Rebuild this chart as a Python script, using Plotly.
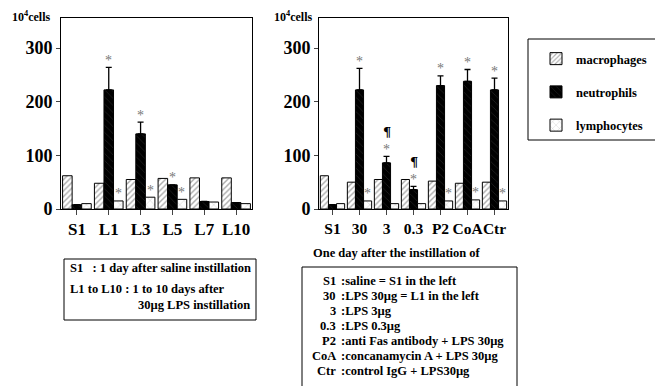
import plotly.graph_objects as go

# ---------------- data ----------------
left_cats = ["S1", "L1", "L3", "L5", "L7", "L10"]
left_mac = [62, 48, 55, 57, 58, 58]
left_neu = [8, 222, 140, 45, 14, 12]
left_lym = [10, 15, 22, 18, 13, 10]
left_neu_err = [0, 42, 22, 0, 0, 0]

right_cats = ["S1", "30", "3", "0.3", "P2", "CoA", "Ctr"]
right_mac = [62, 50, 55, 55, 52, 48, 50]
right_neu = [8, 222, 86, 36, 230, 238, 222]
right_lym = [10, 15, 10, 10, 15, 17, 15]
right_neu_err = [0, 40, 12, 6, 18, 22, 22]

# significance marks: (category, series, symbol)
left_marks = [("L1", "neu", "*"), ("L1", "lym", "*"), ("L3", "neu", "*"),
              ("L3", "lym", "*"), ("L5", "neu", "*"), ("L5", "lym", "*")]
right_marks = [("30", "neu", "*"), ("30", "lym", "*"), ("3", "neu", "*"),
               ("0.3", "neu", "*"), ("P2", "neu", "*"), ("P2", "lym", "*"),
               ("CoA", "neu", "*"), ("CoA", "lym", "*"), ("Ctr", "neu", "*"),
               ("Ctr", "lym", "*")]
right_para = ["3", "0.3"]

series_names = ["macrophages", "neutrophils", "lymphocytes"]
yticks = [0, 100, 200, 300]

left_box_lines = ["S1   : 1 day after saline instillation",
                  "L1 to L10 : 1 to 10 days after",
                  "30\u00b5g LPS instillation"]
right_title = "One day after the instillation of"
right_codes = ["S1", "30", "3", "0.3", "P2", "CoA", "Ctr"]
right_descs = [":saline = S1 in the left", ":LPS 30\u00b5g = L1 in the left",
               ":LPS 3\u00b5g", ":LPS 0.3\u00b5g",
               ":anti Fas antibody + LPS 30\u00b5g",
               ":concanamycin A + LPS 30\u00b5g", ":control IgG + LPS30\u00b5g"]

# ---------------- styling ----------------
OX, OY = 8, 8
W, H = 663 - OX, 386 - OY
SERIF = "Liberation Serif"
styles = {
    "macrophages": dict(color="white",
                        pattern=dict(shape="/", fgcolor="#555", bgcolor="white",
                                     size=4, solidity=0.35, fillmode="overlay")),
    "neutrophils": dict(color="black",
                        pattern=dict(shape="\\", fgcolor="#444", bgcolor="black",
                                     size=5, solidity=0.15, fillmode="overlay")),
    "lymphocytes": dict(color="white",
                        pattern=dict(shape="x", fgcolor="#777", bgcolor="white",
                                     size=6, solidity=0.12, fillmode="overlay")),
}

def px_x(p):
    return (p - OX) / W

def px_y(p):
    return 1 - (p - OY) / H

fig = go.Figure()

def add_group(cats, mac, neu, lym, err, xa, ya, show):
    vals = {"macrophages": mac, "neutrophils": neu, "lymphocytes": lym}
    for name in series_names:
        st = styles[name]
        kw = {}
        if name == "neutrophils":
            kw["error_y"] = dict(type="data", array=err, arrayminus=[0] * len(err),
                                 symmetric=False, color="black", thickness=1.3,
                                 width=3)
        fig.add_trace(go.Bar(
            x=cats, y=vals[name], name=name, xaxis=xa, yaxis=ya,
            marker=dict(color=st["color"], pattern=st["pattern"],
                        line=dict(color="black", width=1)),
            showlegend=show, legendgroup=name, **kw))

add_group(left_cats, left_mac, left_neu, left_lym, left_neu_err, "x", "y", True)
add_group(right_cats, right_mac, right_neu, right_lym, right_neu_err, "x2", "y2", False)

# axis geometry (pixels in the screenshot)
L_x0, L_x1 = 61, 252
R_x0, R_x1 = 319, 508
Y_top, Y_zero = 18, 209
YMAX = 356
BARGAP = 0.1

axis_common = dict(showline=True, linecolor="black", linewidth=1, mirror=True,
                   showgrid=False, zeroline=False, automargin=False)
xfont = dict(family=SERIF, size=17, color="black", weight="bold")
xfont2 = dict(family=SERIF, size=15.5, color="black", weight="bold")
yfont = dict(family=SERIF, size=18, color="black", weight="bold")

fig.update_layout(
    width=W, height=H, margin=dict(l=0, r=0, t=0, b=0, autoexpand=False),
    paper_bgcolor="white", plot_bgcolor="white",
    barmode="group", bargap=BARGAP, bargroupgap=0,
    xaxis=dict(domain=[px_x(L_x0), px_x(L_x1)], anchor="y", type="category",
               range=[-0.5, len(left_cats) - 0.5], tickangle=0,
               ticks="outside", ticklen=5, tickfont=xfont, **axis_common),
    yaxis=dict(domain=[px_y(Y_zero), px_y(Y_top)], anchor="x", range=[0, YMAX],
               tickvals=yticks, ticks="outside", ticklen=4, tickfont=yfont,
               **axis_common),
    xaxis2=dict(domain=[px_x(R_x0), px_x(R_x1)], anchor="y2", type="category",
                range=[-0.5, len(right_cats) - 0.5], tickangle=0,
                ticks="outside", ticklen=5, tickfont=xfont2, **axis_common),
    yaxis2=dict(domain=[px_y(Y_zero), px_y(Y_top)], anchor="x2", range=[0, YMAX],
                tickvals=yticks, ticks="outside", ticklen=4, tickfont=yfont,
                **axis_common),
    legend=dict(x=px_x(536), y=px_y(44), xanchor="left", yanchor="top",
                bgcolor="rgba(0,0,0,0)", borderwidth=0, tracegroupgap=14,
                itemwidth=30,
                font=dict(family=SERIF, size=12.5, color="black", weight="bold")),
)

# significance annotations (category index positions)
def add_marks(cats, mac, neu, lym, err, marks, xref, yref, barw):
    vals = {"mac": mac, "neu": neu, "lym": lym}
    shifts = {"mac": -barw, "neu": 0, "lym": barw}
    for cat, ser, sym in marks:
        i = cats.index(cat)
        top = vals[ser][i] + (err[i] if ser == "neu" else 0)
        fig.add_annotation(x=i, y=top + 13, xref=xref, yref=yref,
                           text=sym, showarrow=False, xshift=shifts[ser],
                           font=dict(family=SERIF, size=14, color="#777"))

lw = (L_x1 - L_x0) / len(left_cats) * (1 - BARGAP) / 3
rw = (R_x1 - R_x0) / len(right_cats) * (1 - BARGAP) / 3
add_marks(left_cats, left_mac, left_neu, left_lym, left_neu_err, left_marks, "x", "y", lw)
add_marks(right_cats, right_mac, right_neu, right_lym, right_neu_err, right_marks, "x2", "y2", rw)
for cat in right_para:
    i = right_cats.index(cat)
    top = right_neu[i] + right_neu_err[i]
    fig.add_annotation(x=i, y=top + 44, xref="x2", yref="y2", text="\u00b6",
                       showarrow=False,
                       font=dict(family="DejaVu Serif", size=13, color="black",
                                 weight="bold"))

# unit labels
for xp in (10, 272):
    fig.add_annotation(x=px_x(xp), y=px_y(16), xref="paper", yref="paper",
                       xanchor="left", yanchor="middle", showarrow=False,
                       text="10<sup>4</sup>cells",
                       font=dict(family=SERIF, size=12, color="black", weight="bold"))

# legend box
fig.add_shape(type="rect", xref="paper", yref="paper",
              x0=px_x(528), x1=px_x(662), y0=px_y(140), y1=px_y(39),
              line=dict(color="black", width=1))

# left explanation box
fig.add_shape(type="rect", xref="paper", yref="paper",
              x0=px_x(64), x1=px_x(256), y0=px_y(320), y1=px_y(259),
              line=dict(color="black", width=1))
tfont = dict(family=SERIF, size=12.5, color="black", weight="bold")
for txt, xp, yp in zip(left_box_lines, (68, 68, 136), (268, 289, 305)):
    fig.add_annotation(x=px_x(xp), y=px_y(yp), xref="paper", yref="paper",
                       xanchor="left", yanchor="middle", showarrow=False,
                       text=txt, font=tfont)

# right explanation box
fig.add_annotation(x=px_x(311), y=px_y(253), xref="paper", yref="paper",
                   xanchor="left", yanchor="middle", showarrow=False,
                   text=right_title, font=tfont)
fig.add_shape(type="rect", xref="paper", yref="paper",
              x0=px_x(302), x1=px_x(517), y0=px_y(392), y1=px_y(267),
              line=dict(color="black", width=1))
for k, (code, desc) in enumerate(zip(right_codes, right_descs)):
    yp = 281 + 15 * k
    fig.add_annotation(x=px_x(338), y=px_y(yp), xref="paper", yref="paper",
                       xanchor="right", yanchor="middle", showarrow=False,
                       text=code, font=tfont)
    fig.add_annotation(x=px_x(339), y=px_y(yp), xref="paper", yref="paper",
                       xanchor="left", yanchor="middle", showarrow=False,
                       text=desc, font=tfont)

fig.write_html("out.html")
